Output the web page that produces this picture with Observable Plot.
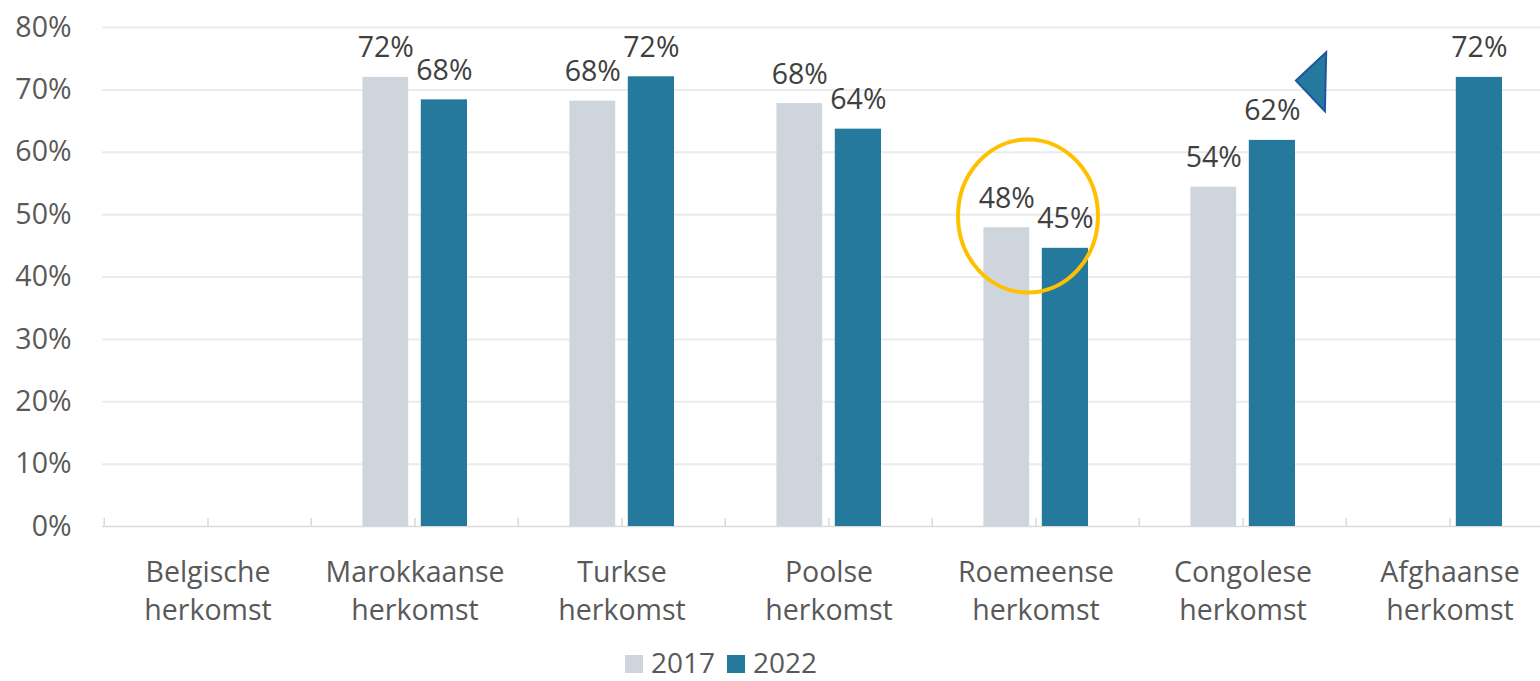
<!DOCTYPE html>
<html>
<head>
<meta charset="utf-8">
<script src="https://cdn.jsdelivr.net/npm/d3@7"></script>
<script src="https://cdn.jsdelivr.net/npm/@observablehq/plot@0.6"></script>
<style>
  html, body { margin: 0; padding: 0; background: #fff; overflow: hidden; }
  body { width: 1540px; height: 681px; font-family: "Open Sans", sans-serif; }
  #legend { display: flex; align-items: center; margin-left: 625px; margin-top: 5px; height: 24px; font-size: 28px; color: #595959; line-height: 24px; }
  #legend .sw { width: 18px; height: 18px; display: inline-block; margin-right: 8px; position: relative; top: 2px; }
  #legend .lab { margin-right: 12px; }
</style>
</head>
<body>
<div id="chart"></div>
<div id="legend"></div>
<script>
// ---- data ----
const categories = ["Belgische herkomst", "Marokkaanse herkomst", "Turkse herkomst", "Poolse herkomst", "Roemeense herkomst", "Congolese herkomst", "Afghaanse herkomst"];
const values2017 = [null, 0.720, 0.682, 0.678, 0.479, 0.544, null];
const values2022 = [null, 0.684, 0.721, 0.637, 0.446, 0.619, 0.720];
const seriesNames = ["2017", "2022"];
const seriesColors = ["#cfd5dd", "#25799c"];
const yTicks = [0, 0.1, 0.2, 0.3, 0.4, 0.5, 0.6, 0.7, 0.8];
// annotations
const highlightCategory = "Roemeense herkomst";
const highlightValue = 0.497;
const arrowCategory = "Congolese herkomst";

const rows2017 = categories.map((c, i) => ({cat: c, v: values2017[i]})).filter(d => d.v != null);
const rows2022 = categories.map((c, i) => ({cat: c, v: values2022[i]})).filter(d => d.v != null);
const pct = d => Math.round(d.v * 100) + "%";

const W = 1540, H = 645;
const plot = Plot.plot({
  width: W,
  height: H,
  marginTop: 27,
  marginBottom: 119,
  marginLeft: 102,
  marginRight: 0,
  style: {fontFamily: "Open Sans, sans-serif", fontSize: "28px", background: "#fff"},
  x: {type: "band", domain: categories, range: [102, 1554.5], padding: 0, label: null},
  y: {domain: [0, 0.8], label: null},
  marks: [
    Plot.ruleY(yTicks.filter(d => d > 0), {stroke: "#ebebeb", strokeWidth: 2}),
    Plot.ruleY([0], {stroke: "#d9d9d9", strokeWidth: 1.5}),
    Plot.ruleX(categories, {x: d => d, y1: 0, y2: 0, insetTop: -8, stroke: "#d9d9d9", strokeWidth: 1.5}),
    Plot.ruleX(categories, {x: d => d, y1: 0, y2: 0, insetTop: -8, dx: -103.75, stroke: "#d9d9d9", strokeWidth: 1.5}),
    Plot.barY(rows2017, {x: "cat", y: "v", fill: seriesColors[0], insetLeft: 51.4, insetRight: 109.8}),
    Plot.barY(rows2022, {x: "cat", y: "v", fill: seriesColors[1], insetLeft: 109.8, insetRight: 51}),
    Plot.text(rows2017, {x: "cat", y: "v", text: pct, dx: -29.2, dy: -20, lineAnchor: "bottom", fontSize: 28.5, fill: "#404040"}),
    Plot.text(rows2022, {x: "cat", y: "v", text: pct, dx: 29.4, dy: -20, lineAnchor: "bottom", fontSize: 28.5, fill: "#404040"}),
    Plot.axisY({ticks: yTicks, tickFormat: d => Math.round(d * 100) + "%", tickSize: 0, tickPadding: 31, fontSize: 28.5, color: "#595959", label: null}),
    Plot.axisX({tickSize: 0, tickPadding: 28, tickFormat: d => d.replace(" ", "\n"), fontSize: 28.5, lineHeight: 1.34, color: "#595959", label: null})
  ]
});
document.getElementById("chart").appendChild(plot);

// annotations drawn with the plot's own scales
const sx = plot.scale("x"), sy = plot.scale("y");
const center = c => sx.apply(c) + sx.bandwidth / 2;
const svg = d3.select(plot);
svg.append("ellipse")
  .attr("cx", center(highlightCategory) - 7.5)
  .attr("cy", sy.apply(highlightValue))
  .attr("rx", 70).attr("ry", 76.5)
  .attr("fill", "none").attr("stroke", "#ffc000").attr("stroke-width", 4);
const ac = center(arrowCategory);
const triPts = [[83.7, 0.7595], [53.4, 0.714], [82.4, 0.665]];
svg.append("polygon")
  .attr("points", triPts.map(([dx, v]) => [ac + dx, sy.apply(v)].join(",")).join(" "))
  .attr("fill", "#25799c").attr("stroke", "#1f55a0").attr("stroke-width", 2).attr("stroke-linejoin", "miter");

// legend
const legend = d3.select("#legend");
seriesNames.forEach((n, i) => {
  legend.append("span").attr("class", "sw").style("background", seriesColors[i]);
  legend.append("span").attr("class", "lab").text(n);
});
</script>
</body>
</html>
